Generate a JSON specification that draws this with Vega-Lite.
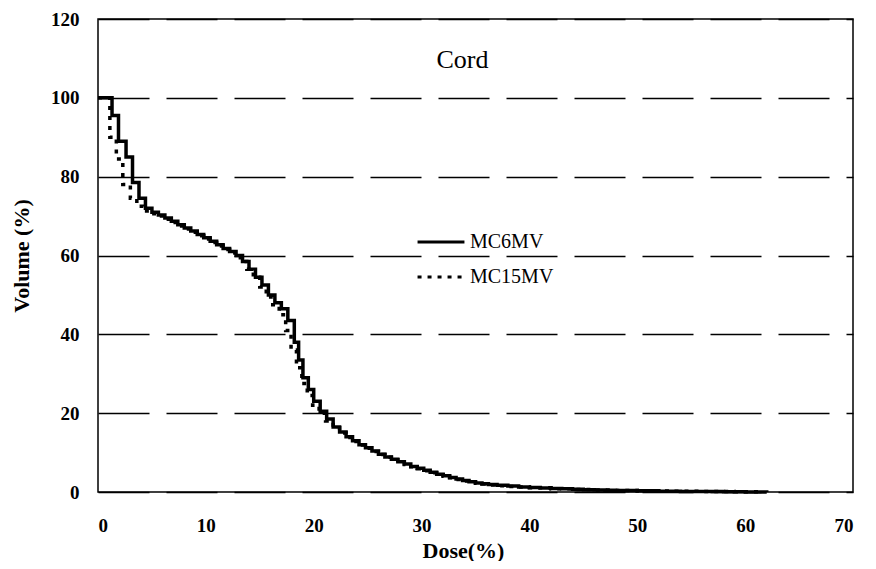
{
  "$schema": "https://vega.github.io/schema/vega-lite/v6.json",
  "width": 755,
  "height": 473,
  "padding": {"left": 10, "top": 10, "right": 5, "bottom": 0},
  "background": "white",
  "title": {"text": "Cord", "font": "Liberation Serif", "fontSize": 26, "fontWeight": "normal", "color": "black", "anchor": "middle", "offset": -63, "dx": -13},
  "config": {
    "view": {"stroke": "black", "strokeWidth": 1.5},
    "axis": {"labelFont": "Liberation Serif", "labelFontWeight": "bold", "labelFontSize": 19, "labelColor": "black", "titleFont": "Liberation Serif", "titleFontWeight": "bold", "titleFontSize": 22, "titleColor": "black", "domain": false, "ticks": false}
  },
  "data": {"values": [
    {"s":"MC15MV","d":0,"v":100},{"s":"MC15MV","d":1.1,"v":90},{"s":"MC15MV","d":1.7,"v":84.5},{"s":"MC15MV","d":2.3,"v":78},{"s":"MC15MV","d":3.0,"v":74.5},{"s":"MC15MV","d":3.6,"v":72.5},{"s":"MC15MV","d":4.2,"v":71.3},{"s":"MC15MV","d":4.8,"v":70.6},{"s":"MC15MV","d":5.6,"v":70},{"s":"MC15MV","d":6.2,"v":69.2},{"s":"MC15MV","d":6.8,"v":68.4},{"s":"MC15MV","d":7.4,"v":67.5},{"s":"MC15MV","d":8.0,"v":66.7},{"s":"MC15MV","d":8.6,"v":65.9},{"s":"MC15MV","d":9.2,"v":65},{"s":"MC15MV","d":9.8,"v":64.2},{"s":"MC15MV","d":10.4,"v":63.3},{"s":"MC15MV","d":11.0,"v":62.4},{"s":"MC15MV","d":11.6,"v":61.5},{"s":"MC15MV","d":12.2,"v":60.7},{"s":"MC15MV","d":12.7,"v":59.7},{"s":"MC15MV","d":13.2,"v":58.5},{"s":"MC15MV","d":13.8,"v":56.5},{"s":"MC15MV","d":14.4,"v":54.5},{"s":"MC15MV","d":15.0,"v":52},{"s":"MC15MV","d":15.6,"v":49.5},{"s":"MC15MV","d":16.2,"v":47.5},{"s":"MC15MV","d":16.8,"v":45},{"s":"MC15MV","d":17.4,"v":41},{"s":"MC15MV","d":17.9,"v":36},{"s":"MC15MV","d":18.4,"v":31.5},{"s":"MC15MV","d":18.9,"v":27.5},{"s":"MC15MV","d":19.4,"v":24.5},{"s":"MC15MV","d":19.9,"v":22},{"s":"MC15MV","d":20.5,"v":20},{"s":"MC15MV","d":21.1,"v":18},{"s":"MC15MV","d":21.8,"v":16.3},{"s":"MC15MV","d":22.4,"v":15},{"s":"MC15MV","d":23.0,"v":13.8},{"s":"MC15MV","d":23.6,"v":12.8},{"s":"MC15MV","d":24.2,"v":11.9},{"s":"MC15MV","d":24.8,"v":11.1},{"s":"MC15MV","d":25.4,"v":10.3},{"s":"MC15MV","d":26.0,"v":9.5},{"s":"MC15MV","d":26.6,"v":8.8},{"s":"MC15MV","d":27.2,"v":8.2},{"s":"MC15MV","d":27.8,"v":7.6},{"s":"MC15MV","d":28.4,"v":7.0},{"s":"MC15MV","d":29.0,"v":6.4},{"s":"MC15MV","d":29.6,"v":5.9},{"s":"MC15MV","d":30.2,"v":5.4},{"s":"MC15MV","d":30.8,"v":4.9},{"s":"MC15MV","d":31.4,"v":4.4},{"s":"MC15MV","d":32.0,"v":4.0},{"s":"MC15MV","d":32.6,"v":3.6},{"s":"MC15MV","d":33.2,"v":3.2},{"s":"MC15MV","d":33.8,"v":2.8},{"s":"MC15MV","d":34.4,"v":2.5},{"s":"MC15MV","d":35.0,"v":2.2},{"s":"MC15MV","d":35.6,"v":2.0},{"s":"MC15MV","d":36.2,"v":1.8},{"s":"MC15MV","d":37,"v":1.6},{"s":"MC15MV","d":38,"v":1.4},{"s":"MC15MV","d":39,"v":1.25},{"s":"MC15MV","d":40,"v":1.1},{"s":"MC15MV","d":42,"v":0.85},{"s":"MC15MV","d":44,"v":0.65},{"s":"MC15MV","d":46,"v":0.5},{"s":"MC15MV","d":48,"v":0.38},{"s":"MC15MV","d":50,"v":0.28},{"s":"MC15MV","d":53,"v":0.17},{"s":"MC15MV","d":56,"v":0.1},{"s":"MC15MV","d":59,"v":0.04},{"s":"MC15MV","d":61.5,"v":0},
    {"s":"MC6MV","d":0,"v":100},{"s":"MC6MV","d":1.3,"v":95.5},{"s":"MC6MV","d":1.9,"v":89},{"s":"MC6MV","d":2.6,"v":85},{"s":"MC6MV","d":3.2,"v":78.5},{"s":"MC6MV","d":3.8,"v":74.5},{"s":"MC6MV","d":4.4,"v":72},{"s":"MC6MV","d":5.0,"v":71},{"s":"MC6MV","d":5.6,"v":70.3},{"s":"MC6MV","d":6.2,"v":69.5},{"s":"MC6MV","d":6.8,"v":68.7},{"s":"MC6MV","d":7.4,"v":67.8},{"s":"MC6MV","d":8.0,"v":67},{"s":"MC6MV","d":8.6,"v":66.2},{"s":"MC6MV","d":9.2,"v":65.3},{"s":"MC6MV","d":9.8,"v":64.5},{"s":"MC6MV","d":10.4,"v":63.6},{"s":"MC6MV","d":11.0,"v":62.7},{"s":"MC6MV","d":11.6,"v":61.8},{"s":"MC6MV","d":12.2,"v":61},{"s":"MC6MV","d":12.8,"v":60},{"s":"MC6MV","d":13.4,"v":58.5},{"s":"MC6MV","d":14.0,"v":56.5},{"s":"MC6MV","d":14.6,"v":54.5},{"s":"MC6MV","d":15.2,"v":52.5},{"s":"MC6MV","d":15.8,"v":50},{"s":"MC6MV","d":16.4,"v":48},{"s":"MC6MV","d":17.0,"v":46.5},{"s":"MC6MV","d":17.6,"v":43.5},{"s":"MC6MV","d":18.2,"v":38},{"s":"MC6MV","d":18.6,"v":33.5},{"s":"MC6MV","d":19.0,"v":29},{"s":"MC6MV","d":19.5,"v":26},{"s":"MC6MV","d":20.0,"v":23},{"s":"MC6MV","d":20.6,"v":20.5},{"s":"MC6MV","d":21.2,"v":18.5},{"s":"MC6MV","d":21.8,"v":16.5},{"s":"MC6MV","d":22.4,"v":15.2},{"s":"MC6MV","d":23.0,"v":14},{"s":"MC6MV","d":23.6,"v":13},{"s":"MC6MV","d":24.2,"v":12},{"s":"MC6MV","d":24.8,"v":11.2},{"s":"MC6MV","d":25.4,"v":10.4},{"s":"MC6MV","d":26.0,"v":9.6},{"s":"MC6MV","d":26.6,"v":8.9},{"s":"MC6MV","d":27.2,"v":8.3},{"s":"MC6MV","d":27.8,"v":7.7},{"s":"MC6MV","d":28.4,"v":7.1},{"s":"MC6MV","d":29.0,"v":6.5},{"s":"MC6MV","d":29.6,"v":6.0},{"s":"MC6MV","d":30.2,"v":5.5},{"s":"MC6MV","d":30.8,"v":5.0},{"s":"MC6MV","d":31.4,"v":4.5},{"s":"MC6MV","d":32.0,"v":4.1},{"s":"MC6MV","d":32.6,"v":3.7},{"s":"MC6MV","d":33.2,"v":3.3},{"s":"MC6MV","d":33.8,"v":2.9},{"s":"MC6MV","d":34.4,"v":2.6},{"s":"MC6MV","d":35.0,"v":2.3},{"s":"MC6MV","d":35.6,"v":2.1},{"s":"MC6MV","d":36.2,"v":1.9},{"s":"MC6MV","d":37,"v":1.7},{"s":"MC6MV","d":38,"v":1.5},{"s":"MC6MV","d":39,"v":1.3},{"s":"MC6MV","d":40,"v":1.15},{"s":"MC6MV","d":41,"v":1.0},{"s":"MC6MV","d":42,"v":0.9},{"s":"MC6MV","d":43,"v":0.8},{"s":"MC6MV","d":44,"v":0.7},{"s":"MC6MV","d":45,"v":0.6},{"s":"MC6MV","d":46,"v":0.5},{"s":"MC6MV","d":47,"v":0.45},{"s":"MC6MV","d":48,"v":0.4},{"s":"MC6MV","d":50,"v":0.3},{"s":"MC6MV","d":52,"v":0.2},{"s":"MC6MV","d":54,"v":0.15},{"s":"MC6MV","d":56,"v":0.1},{"s":"MC6MV","d":58,"v":0.05},{"s":"MC6MV","d":60,"v":0.02},{"s":"MC6MV","d":62,"v":0}
  ]},
  "mark": {"type": "line", "interpolate": "step-after", "color": "black", "strokeWidth": 3.5},
  "encoding": {
    "x": {"field": "d", "type": "quantitative", "scale": {"domain": [0, 70], "nice": false}, "axis": {"title": "Dose(%)", "values": [0,10,20,30,40,50,60,70], "grid": false, "labelPadding": 24, "titlePadding": 5, "titleFontSize": 22, "titleX": 365}},
    "y": {"field": "v", "type": "quantitative", "scale": {"domain": [0, 120], "nice": false}, "axis": {"title": "Volume (%)", "values": [0,20,40,60,80,100,120], "grid": true, "gridColor": "black", "gridWidth": 1.5, "gridDash": [51, 17], "gridOpacity": 1, "labelPadding": 19, "titlePadding": 17}},
    "strokeDash": {"field": "s", "type": "nominal", "sort": ["MC6MV", "MC15MV"], "scale": {"domain": ["MC6MV", "MC15MV"], "range": [[1, 0], [4, 6]]}, "legend": {"title": null, "orient": "none", "legendX": 318, "legendY": 198, "symbolType": "stroke", "symbolSize": 2200, "symbolStrokeWidth": 3, "symbolStrokeColor": "black", "labelFont": "Liberation Serif", "labelFontSize": 20, "labelColor": "black", "rowPadding": -22, "labelOffset": 4}}
  }
}
